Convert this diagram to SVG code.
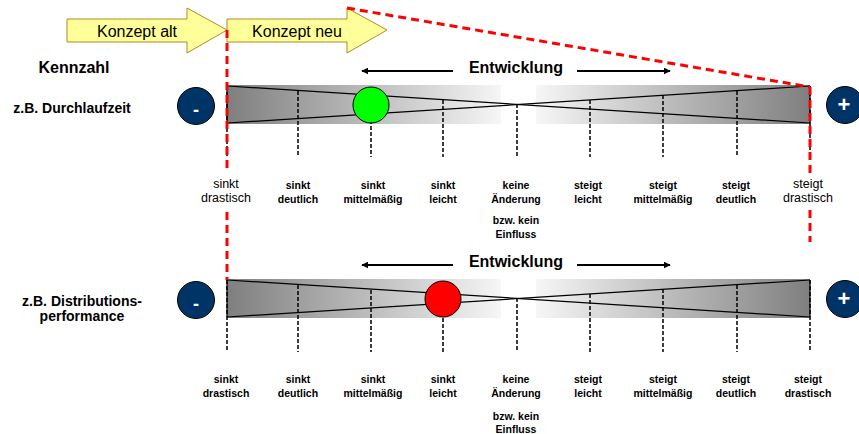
<svg xmlns="http://www.w3.org/2000/svg" width="859" height="434" viewBox="0 0 859 434">
<defs>
<linearGradient id="gl" x1="0" y1="0" x2="1" y2="0"><stop offset="0" stop-color="#7f7f7f"/><stop offset="1" stop-color="#f6f6f6"/></linearGradient>
<linearGradient id="gr" x1="0" y1="0" x2="1" y2="0"><stop offset="0" stop-color="#f6f6f6"/><stop offset="1" stop-color="#7f7f7f"/></linearGradient>
<marker id="ah" viewBox="0 0 10 10" refX="9" refY="5" markerWidth="7" markerHeight="7" orient="auto" markerUnits="userSpaceOnUse"><path d="M0,0 L10,5 L0,10 z" fill="#000"/></marker>
</defs>
<style>
text{font-family:"Liberation Sans",Arial,sans-serif;fill:#000}
.lab{font-size:10.5px;font-weight:bold;text-anchor:middle}
.labr{font-size:12.5px;font-weight:normal;text-anchor:middle}
.big{font-size:16px;font-weight:bold}
.row{font-size:14px;font-weight:bold;text-anchor:middle}
.dash{stroke:#000;stroke-width:1.5;stroke-dasharray:4,2;fill:none}
.xl{stroke:#000;stroke-width:1.2;fill:none}
.red{stroke:#ff0000;stroke-width:3;stroke-dasharray:8,5;fill:none}
.arr{stroke:#000;stroke-width:2;fill:none;marker-end:url(#ah)}
.pm{fill:#003366;stroke:#000;stroke-width:1}
.pmt{fill:#fff;font-weight:bold;text-anchor:middle}
.kon{fill:#ffff99;stroke:#b08a2a;stroke-width:1}
.kt{font-size:16px;text-anchor:middle}
</style>

<g id="konzept-alt"><polygon class="kon" points="67,19 187,19 187,8 227,30 187,53 187,42 67,42"/><text class="kt" x="137" y="37">Konzept alt</text></g>
<g id="konzept-neu"><polygon class="kon" points="227,19 347,19 347,8 387,30 347,53 347,42 227,42"/><text class="kt" x="297" y="37">Konzept neu</text></g>

<g id="kennzahl"><text class="big" x="74" y="73" text-anchor="middle">Kennzahl</text></g>

<!-- Row 1 -->
<g id="row1-label"><text class="row" x="72" y="113">z.B. Durchlaufzeit</text></g>
<g id="row1-bar">
<rect x="227" y="85" width="274" height="39" fill="url(#gl)"/>
<rect x="536" y="85" width="274" height="39" fill="url(#gr)"/>
<line class="xl" x1="227" y1="86" x2="810" y2="123"/>
<line class="xl" x1="227" y1="123" x2="810" y2="86"/>
<line class="xl" x1="227" y1="86" x2="227" y2="123"/>
<line class="xl" x1="810" y1="86" x2="810" y2="123"/>
</g>
<g id="row1-ticks">
<line class="dash" x1="227" y1="86" x2="227" y2="157"/>
<line class="dash" x1="298" y1="91" x2="298" y2="157"/>
<line class="dash" x1="371" y1="96" x2="371" y2="157"/>
<line class="dash" x1="443" y1="100" x2="443" y2="157"/>
<line class="dash" x1="517" y1="104" x2="517" y2="157"/>
<line class="dash" x1="590" y1="100" x2="590" y2="157"/>
<line class="dash" x1="663" y1="95" x2="663" y2="157"/>
<line class="dash" x1="737" y1="91" x2="737" y2="157"/>
<line class="dash" x1="810" y1="86" x2="810" y2="157"/>
</g>
<g id="row1-minus"><circle class="pm" cx="196" cy="106" r="18.5"/><text class="pmt" x="196" y="116" font-size="18">-</text></g>
<g id="row1-plus"><circle class="pm" cx="845" cy="105" r="18.5"/><text class="pmt" x="844" y="112" font-size="22">+</text></g>
<g id="row1-marker"><circle cx="371" cy="105" r="18" fill="#00ff00" stroke="#000" stroke-width="1"/></g>
<g id="row1-entwicklung">
<text class="big" x="516" y="73" text-anchor="middle">Entwicklung</text>
</g>
<g id="row1-labels">
<text class="labr" x="226" y="188">sinkt</text><text class="labr" x="226" y="202">drastisch</text>
<text class="lab" x="298" y="189">sinkt</text><text class="lab" x="298" y="203">deutlich</text>
<text class="lab" x="373" y="189">sinkt</text><text class="lab" x="373" y="203">mittelmäßig</text>
<text class="lab" x="443" y="189">sinkt</text><text class="lab" x="443" y="203">leicht</text>
<text class="lab" x="516" y="189">keine</text><text class="lab" x="516" y="203">Änderung</text>
<text class="lab" x="516" y="224">bzw. kein</text><text class="lab" x="516" y="238">Einfluss</text>
<text class="lab" x="588" y="189">steigt</text><text class="lab" x="588" y="203">leicht</text>
<text class="lab" x="663" y="189">steigt</text><text class="lab" x="663" y="203">mittelmäßig</text>
<text class="lab" x="736" y="189">steigt</text><text class="lab" x="736" y="203">deutlich</text>
<text class="labr" x="808" y="188">steigt</text><text class="labr" x="808" y="202">drastisch</text>
</g>

<!-- Row 2 -->
<g id="row2-label"><text class="row" x="82" y="306">z.B. Distributions-</text><text class="row" x="82" y="321">performance</text></g>
<g id="row2-bar">
<rect x="227" y="279" width="274" height="39" fill="url(#gl)"/>
<rect x="536" y="279" width="274" height="39" fill="url(#gr)"/>
<line class="xl" x1="227" y1="280" x2="810" y2="317"/>
<line class="xl" x1="227" y1="317" x2="810" y2="280"/>
<line class="xl" x1="227" y1="280" x2="227" y2="317"/>
<line class="xl" x1="810" y1="280" x2="810" y2="317"/>
</g>
<g id="row2-ticks">
<line class="dash" x1="227" y1="280" x2="227" y2="352"/>
<line class="dash" x1="298" y1="285" x2="298" y2="352"/>
<line class="dash" x1="371" y1="290" x2="371" y2="352"/>
<line class="dash" x1="443" y1="294" x2="443" y2="352"/>
<line class="dash" x1="517" y1="298" x2="517" y2="352"/>
<line class="dash" x1="590" y1="294" x2="590" y2="352"/>
<line class="dash" x1="663" y1="289" x2="663" y2="352"/>
<line class="dash" x1="737" y1="285" x2="737" y2="352"/>
<line class="dash" x1="810" y1="280" x2="810" y2="352"/>
</g>
<g id="row2-minus"><circle class="pm" cx="196" cy="300" r="18.5"/><text class="pmt" x="196" y="310" font-size="18">-</text></g>
<g id="row2-plus"><circle class="pm" cx="845" cy="299" r="18.5"/><text class="pmt" x="844" y="306" font-size="22">+</text></g>
<g id="row2-marker"><circle cx="443" cy="299" r="18" fill="#ff0000" stroke="#000" stroke-width="1"/></g>
<g id="row2-entwicklung">
<text class="big" x="516" y="267" text-anchor="middle">Entwicklung</text>
</g>
<g id="row2-labels">
<text class="lab" x="226" y="383">sinkt</text><text class="lab" x="226" y="397">drastisch</text>
<text class="lab" x="298" y="383">sinkt</text><text class="lab" x="298" y="397">deutlich</text>
<text class="lab" x="373" y="383">sinkt</text><text class="lab" x="373" y="397">mittelmäßig</text>
<text class="lab" x="443" y="383">sinkt</text><text class="lab" x="443" y="397">leicht</text>
<text class="lab" x="516" y="383">keine</text><text class="lab" x="516" y="397">Änderung</text>
<text class="lab" x="516" y="420">bzw. kein</text><text class="lab" x="516" y="433">Einfluss</text>
<text class="lab" x="588" y="383">steigt</text><text class="lab" x="588" y="397">leicht</text>
<text class="lab" x="663" y="383">steigt</text><text class="lab" x="663" y="397">mittelmäßig</text>
<text class="lab" x="736" y="383">steigt</text><text class="lab" x="736" y="397">deutlich</text>
<text class="lab" x="808" y="383">steigt</text><text class="lab" x="808" y="397">drastisch</text>
</g>

<g id="connectors">
<line class="arr" x1="453" y1="71" x2="362" y2="71"/>
<line class="arr" x1="577" y1="71" x2="670" y2="71"/>
<line class="arr" x1="453" y1="265" x2="362" y2="265"/>
<line class="arr" x1="577" y1="265" x2="670" y2="265"/>
<line class="red" x1="227" y1="30" x2="227" y2="173"/>
<line class="red" x1="227" y1="212" x2="227" y2="280"/>
<line class="red" x1="347" y1="8" x2="810" y2="87"/>
<line class="red" x1="810" y1="87" x2="810" y2="173"/>
<line class="red" x1="810" y1="210" x2="810" y2="242"/>
</g>
</svg>
